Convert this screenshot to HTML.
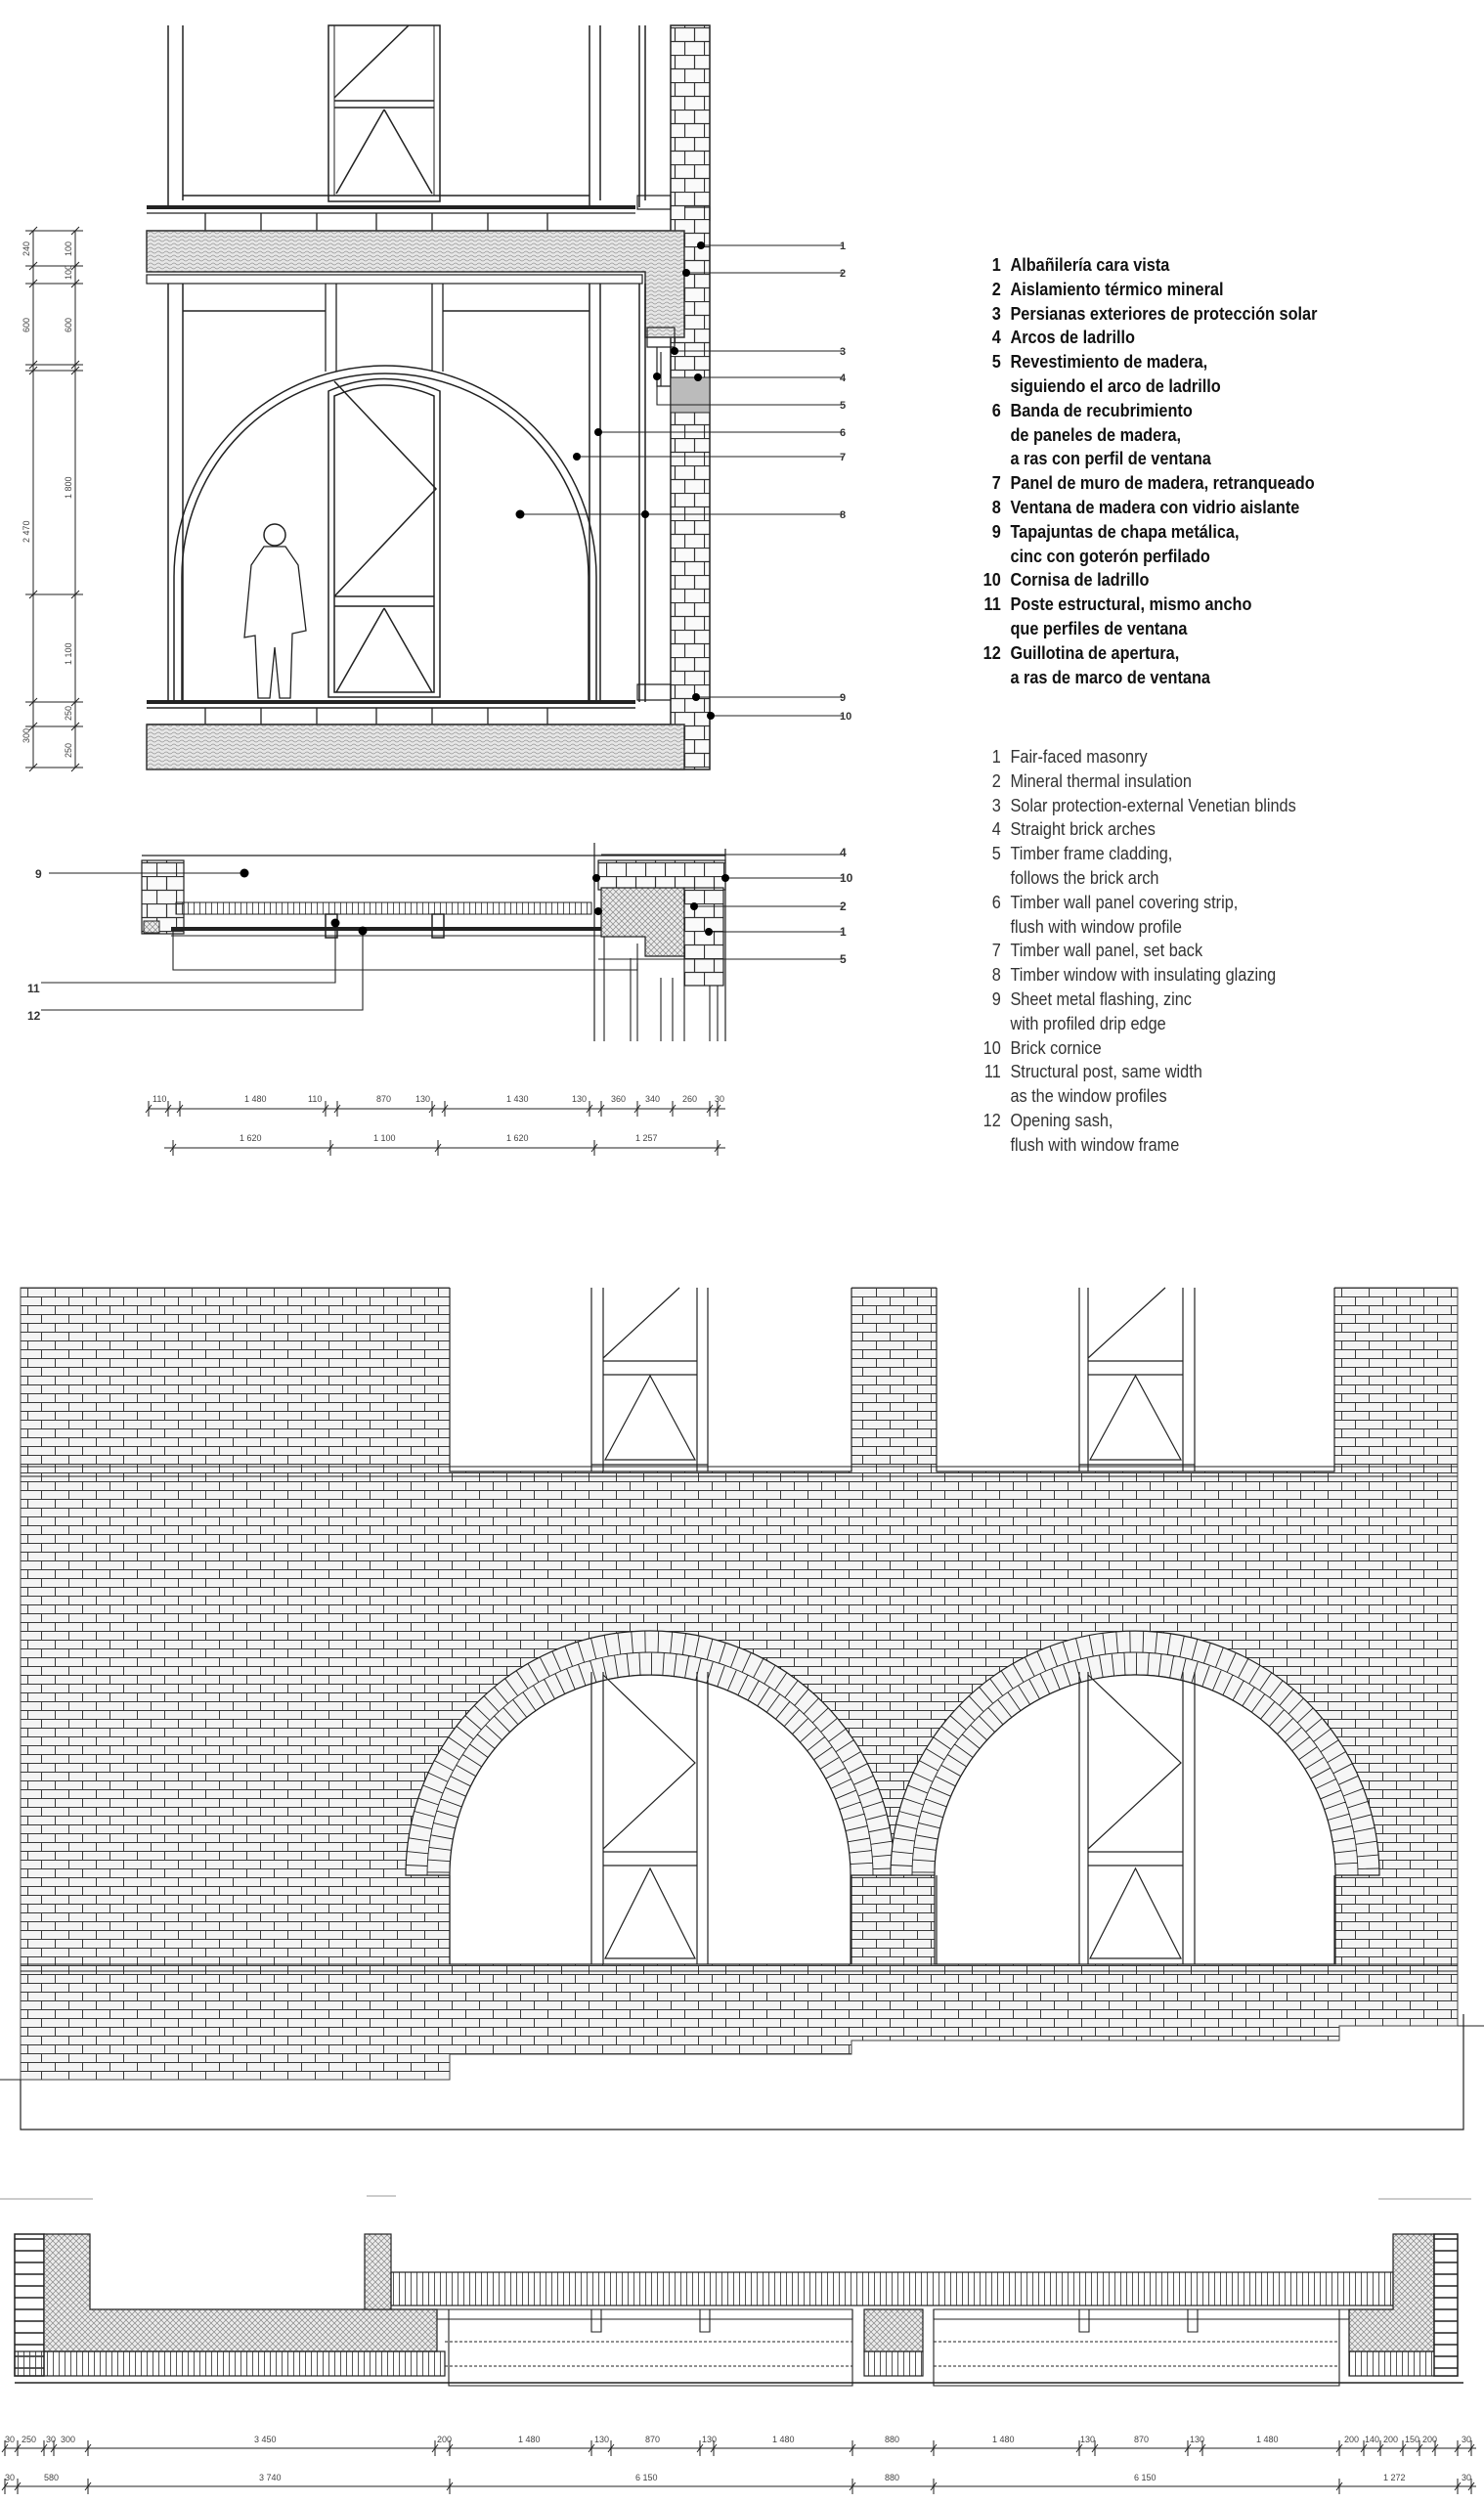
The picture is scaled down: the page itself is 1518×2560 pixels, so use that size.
<!DOCTYPE html>
<html><head><meta charset="utf-8"><style>
html,body{margin:0;padding:0;background:#fff;}
body{width:1518px;height:2560px;position:relative;overflow:hidden;font-family:"Liberation Sans",sans-serif;}
svg{position:absolute;left:0;top:0;}
.lg{position:absolute;left:1000px;font-size:18.5px;line-height:24.8px;white-space:nowrap;transform:scaleX(0.88);transform-origin:0 0;}
.lg div{position:relative;padding-left:38px;height:24.8px;}
.lg span{position:absolute;left:0;width:27px;text-align:right;}
.es{top:259px;font-weight:bold;color:#111;}
.en{top:762px;color:#333;}
</style></head><body>
<svg id="s" width="1518" height="2560" viewBox="0 0 1518 2560" font-family="Liberation Sans" >
<defs>
<pattern id="br" width="28" height="18" patternUnits="userSpaceOnUse" y="1317"><rect width="28" height="18" fill="#f4f4f4"/><path d="M0 0.5H28M0 9.5H28M0.5 0V9.5M14.5 9.5V18" stroke="#3a3a3a" stroke-width="1" fill="none"/></pattern>
<pattern id="br2" width="20" height="28" patternUnits="userSpaceOnUse"><rect width="20" height="28" fill="#fafafa"/><path d="M0 0.5H20M0 14.5H20M10.5 0V14M0.5 14V28" stroke="#333" stroke-width="1.2" fill="none"/></pattern>
<pattern id="cc" width="8" height="8" patternUnits="userSpaceOnUse"><rect width="8" height="8" fill="#e6e6e6"/><path d="M0 2Q2 0 4 2T8 2M0 6Q2 4 4 6T8 6" stroke="#999" stroke-width="0.8" fill="none"/></pattern>
<pattern id="ins" width="6" height="6" patternUnits="userSpaceOnUse"><rect width="6" height="6" fill="#ececec"/><path d="M0 0L6 6M6 0L0 6" stroke="#888" stroke-width="0.7"/></pattern>
<pattern id="vl" width="6" height="10" patternUnits="userSpaceOnUse"><path d="M0.5 0V10" stroke="#444" stroke-width="0.9"/></pattern>
</defs>
<g stroke="#222" fill="none" stroke-width="1.5">
<rect x="686" y="26" width="40" height="761" fill="url(#br2)" stroke="#222"/>
<path d="M172 26V212M187 26V205M603 26V212M614 26V205M654 26V212M660 26V205M187 200H603"/>
<rect x="336" y="26" width="114" height="180"/><rect x="342" y="26" width="102" height="174" stroke-width="1"/>
<path d="M342 103H444M342 110H444M342 100L418 26M393 112L344 198M393 112L442 198"/>
<path d="M150 212H650" stroke-width="4"/><path d="M150 218H650M150 236H686" stroke-width="1.2"/>
<g id="joist1"></g>
<path d="M150 236H700V345H660V278H150Z" fill="url(#cc)" stroke="#333"/>
<rect x="150" y="281" width="507" height="9" stroke-width="1.2"/>
<path d="M172 290V718M187 290V718M603 290V718M614 290V718M654 290V718M660 290V718M187 318H333M453 318H603"/>
<path d="M333 290V380M344 290V380M442 290V380M453 290V380" stroke-width="1.3"/>
<path d="M178 590A216 216 0 0 1 610 590V718M178 590V718M186 590A208 208 0 0 1 602 590V718M186 590V718" stroke-width="1.5"/>
<path d="M336 713V400Q393 375 450 400V713ZM342 708V405Q393 383 444 405V708Z" fill="#fff"/>
<path d="M342 610H444M342 620H444M342 390L446 500L342 610M393 622L344 708M393 622L442 708"/>
<circle cx="281" cy="547" r="11" fill="#fff"/>
<path d="M270 559L257 578L250 652L261 650L264 714L276 714L281 662L286 714L297 714L299 648L313 645L305 578L292 559Z" fill="#fff" stroke-width="1.3"/>
<path d="M150 718H650" stroke-width="4"/><path d="M150 724H650M150 741H686"/>
<g id="joist2"></g>
<rect x="150" y="741" width="550" height="46" fill="url(#cc)" stroke="#333"/>
<path d="M662 335h28v20h-28zM672 355h14v40h-14zM676 360v35" stroke-width="1.2"/>
<rect x="686" y="386" width="40" height="36" fill="#bbb" stroke-width="1"/>
<path d="M652 200h34v14h-34zM652 700h34v16h-34zM700 212h26v14" stroke-width="1.2"/>
<g stroke-width="1.1">
<path d="M717 251H862M702 279H862M690 359H862M714 386H862M672 385V414H862M612 442H862M590 467H862M532 526H862M712 713H862M727 732H862"/>
</g>
<g fill="#000" stroke="none">
<circle cx="717" cy="251" r="4"/><circle cx="702" cy="279" r="4"/><circle cx="690" cy="359" r="4"/><circle cx="714" cy="386" r="4"/><circle cx="672" cy="385" r="4"/><circle cx="612" cy="442" r="4"/><circle cx="590" cy="467" r="4"/><circle cx="532" cy="526" r="4.5"/><circle cx="660" cy="526" r="4"/><circle cx="712" cy="713" r="4"/><circle cx="727" cy="732" r="4"/>
</g>
<g fill="#333" stroke="none" font-size="11" font-weight="bold">
<text x="859" y="255">1</text><text x="859" y="283">2</text><text x="859" y="363">3</text><text x="859" y="390">4</text><text x="859" y="418">5</text><text x="859" y="446">6</text><text x="859" y="471">7</text><text x="859" y="530">8</text><text x="859" y="717">9</text><text x="859" y="736">10</text>
</g>
<g stroke-width="1"><path d="M34 236V785M77 236V785"/><g id="ldt"></g></g>
<g fill="#444" stroke="none" font-size="9">
<text transform="translate(30,262) rotate(-90)">240</text><text transform="translate(73,262) rotate(-90)">100</text><text transform="translate(73,286) rotate(-90)">100</text>
<text transform="translate(30,340) rotate(-90)">600</text><text transform="translate(73,340) rotate(-90)">600</text>
<text transform="translate(30,555) rotate(-90)">2 470</text><text transform="translate(73,510) rotate(-90)">1 800</text><text transform="translate(73,680) rotate(-90)">1 100</text>
<text transform="translate(30,760) rotate(-90)">300</text><text transform="translate(73,737) rotate(-90)">250</text><text transform="translate(73,775) rotate(-90)">250</text>
</g>

<path d="M145 875H742M608 862V1065M742 868V1065" stroke-width="1.2"/>
<rect x="145" y="880" width="43" height="75" fill="url(#br2)" stroke-width="1.2"/>
<rect x="147" y="942" width="16" height="12" fill="url(#ins)" stroke-width="1"/>
<rect x="180" y="923" width="425" height="12" fill="url(#vl)" stroke-width="1"/>
<path d="M175 950H650" stroke-width="4"/><path d="M175 957H650M177 950V992H652V965" stroke-width="1.1"/>
<rect x="333" y="935" width="12" height="24"/><rect x="442" y="935" width="12" height="24"/>
<rect x="612" y="880" width="130" height="30" fill="url(#br2)" stroke-width="1.2"/>
<path d="M615 908H700V978H660V958H615Z" fill="url(#ins)" stroke-width="1.2"/>
<rect x="700" y="908" width="40" height="100" fill="url(#br2)" stroke-width="1.2"/>
<path d="M618 958V1065M645 980V1065M652 985V1065M676 1000V1065M688 1000V1065M700 1008V1065M726 1008V1065M734 1008V1065" stroke-width="1.1"/>
<path d="M50 893H250M42 1005H343V944M42 1033H371V952M615 874H862M742 898H862M710 927H862M725 953H862M612 981H862" stroke-width="1.1"/>
<g fill="#000" stroke="none"><circle cx="250" cy="893" r="4.5"/><circle cx="343" cy="944" r="4.5"/><circle cx="371" cy="952" r="4.5"/><circle cx="610" cy="898" r="4"/><circle cx="742" cy="898" r="4"/><circle cx="710" cy="927" r="4"/><circle cx="725" cy="953" r="4"/><circle cx="612" cy="932" r="4"/></g>
<g fill="#333" stroke="none" font-size="12" font-weight="bold">
<text x="36" y="898">9</text><text x="28" y="1015">11</text><text x="28" y="1043">12</text>
<text x="859" y="876">4</text><text x="859" y="902">10</text><text x="859" y="931">2</text><text x="859" y="957">1</text><text x="859" y="985">5</text>
</g>
<g stroke-width="1"><path d="M152 1134H742M168 1174H742"/><g id="mdt"></g></g>
<g fill="#444" stroke="none" font-size="9">
<text x="156" y="1127">110</text><text x="250" y="1127">1 480</text><text x="315" y="1127">110</text><text x="385" y="1127">870</text><text x="425" y="1127">130</text><text x="518" y="1127">1 430</text><text x="585" y="1127">130</text><text x="625" y="1127">360</text><text x="660" y="1127">340</text><text x="698" y="1127">260</text><text x="731" y="1127">30</text>
<text x="245" y="1167">1 620</text><text x="382" y="1167">1 100</text><text x="518" y="1167">1 620</text><text x="650" y="1167">1 257</text>
</g>

<path d="M21 1317H1491V2072H1370V2087H871V2101H460V2127H21Z" fill="url(#br)" stroke="#444" stroke-width="1"/>
<rect x="460" y="1310" width="411" height="195" fill="#fff" stroke="none"/>
<rect x="958" y="1310" width="407" height="195" fill="#fff" stroke="none"/>
<path d="M460 1317V1505H871V1317M958 1317V1505H1365V1317" stroke-width="1.2"/>
<path d="M21 1500H1491M21 1510H1491M21 2009H1491M21 2016H1491" stroke-width="1"/>
<g id="arches"></g>
<g id="wins"></g>
<path d="M21 2127V2178H1497V2060" stroke-width="1.2"/>
<path d="M0 2127H21M1491 2072H1518" stroke-width="1"/>

<path d="M0 2249H95M1410 2249H1505M375 2246H405" stroke="#999" stroke-width="1"/>
<rect x="15" y="2285" width="30" height="145" fill="#fff"/>
<g id="lbr"></g>
<path d="M45 2285H92V2362H447V2405H45Z" fill="url(#ins)" stroke-width="1.2"/>
<rect x="373" y="2285" width="27" height="77" fill="url(#ins)" stroke-width="1.2"/>
<rect x="400" y="2324" width="1025" height="34" fill="url(#vl)" stroke-width="1.2"/>
<rect x="15" y="2405" width="440" height="25" fill="url(#vl)" stroke-width="1.2"/>
<rect x="884" y="2405" width="60" height="25" fill="url(#vl)" stroke-width="1.2"/>
<rect x="1380" y="2405" width="111" height="25" fill="url(#vl)" stroke-width="1.2"/>
<rect x="884" y="2362" width="60" height="43" fill="url(#ins)" stroke-width="1.2"/>
<path d="M1425 2285H1467V2405H1380V2362H1425Z" fill="url(#ins)" stroke-width="1.2"/>
<rect x="1467" y="2285" width="24" height="145" fill="#fff"/>
<g id="rbr"></g>
<g stroke-width="1.1">
<path d="M447 2362H872V2372H447ZM955 2362H1380V2372H955Z"/>
<path d="M455 2395H872M955 2395H1370M455 2420H872M955 2420H1370" stroke-dasharray="3 2"/>
<path d="M459 2362V2440H872V2362M955 2362V2440H1370V2362M605 2362V2385h10v-23M716 2362V2385h10v-23M1104 2362V2385h10v-23M1215 2362V2385h10v-23"/>
<path d="M15 2437H1497" stroke-width="1.5"/>
</g>
<g stroke-width="1"><path d="M5 2504H1510M5 2543H1510"/><g id="bdt"></g></g>
<g fill="#444" stroke="none" font-size="9" id="bdtx"></g>
</g>
</svg>
<div class="lg es"><div><span>1</span>Albañilería cara vista</div><div><span>2</span>Aislamiento térmico mineral</div><div><span>3</span>Persianas exteriores de protección solar</div><div><span>4</span>Arcos de ladrillo</div><div><span>5</span>Revestimiento de madera,</div><div>siguiendo el arco de ladrillo</div><div><span>6</span>Banda de recubrimiento</div><div>de paneles de madera,</div><div>a ras con perfil de ventana</div><div><span>7</span>Panel de muro de madera, retranqueado</div><div><span>8</span>Ventana de madera con vidrio aislante</div><div><span>9</span>Tapajuntas de chapa metálica,</div><div>cinc con goterón perfilado</div><div><span>10</span>Cornisa de ladrillo</div><div><span>11</span>Poste estructural, mismo ancho</div><div>que perfiles de ventana</div><div><span>12</span>Guillotina de apertura,</div><div>a ras de marco de ventana</div></div>
<div class="lg en"><div><span>1</span>Fair-faced masonry</div><div><span>2</span>Mineral thermal insulation</div><div><span>3</span>Solar protection-external Venetian blinds</div><div><span>4</span>Straight brick arches</div><div><span>5</span>Timber frame cladding,</div><div>follows the brick arch</div><div><span>6</span>Timber wall panel covering strip,</div><div>flush with window profile</div><div><span>7</span>Timber wall panel, set back</div><div><span>8</span>Timber window with insulating glazing</div><div><span>9</span>Sheet metal flashing, zinc</div><div>with profiled drip edge</div><div><span>10</span>Brick cornice</div><div><span>11</span>Structural post, same width</div><div>as the window profiles</div><div><span>12</span>Opening sash,</div><div>flush with window frame</div></div>
<script>
var NS="http://www.w3.org/2000/svg";
function P(id,d,w,fill){var p=document.createElementNS(NS,"path");p.setAttribute("d",d);if(w)p.setAttribute("stroke-width",w);if(fill)p.setAttribute("fill",fill);document.getElementById(id).appendChild(p);}
var d="";[210,267,324,385,442,499,560].forEach(function(x){d+="M"+x+" 218V236";});P("joist1",d,1.3);
d="";[210,267,324,385,442,499,560].forEach(function(x){d+="M"+x+" 724V741";});P("joist2",d,1.3);
d="";[236,272,290,373,379,608,718,743,785].forEach(function(y){d+="M26 "+y+"H85M30 "+(y+4)+"L38 "+(y-4)+"M73 "+(y+4)+"L81 "+(y-4);});P("ldt",d);
d="";[152,172,184,333,345,442,455,603,615,652,688,726,734].forEach(function(x){d+="M"+x+" 1126V1142M"+(x-3)+" 1138L"+(x+3)+" 1130";});
[177,338,448,608,734].forEach(function(x){d+="M"+x+" 1166V1182M"+(x-3)+" 1178L"+(x+3)+" 1170";});P("mdt",d);
[665,1161].forEach(function(cx){var cy=1918,r1=205,r2=250,rm=228;
 var ring="M"+(cx-r2)+" "+cy+"A"+r2+" "+r2+" 0 0 1 "+(cx+r2)+" "+cy+"L"+(cx+r1)+" "+cy+"A"+r1+" "+r1+" 0 0 0 "+(cx-r1)+" "+cy+"Z";
 P("arches",ring,1.2,"#f6f6f6");
 P("arches","M"+(cx-r1)+" "+cy+"A"+r1+" "+r1+" 0 0 1 "+(cx+r1)+" "+cy+"V2009H"+(cx-r1)+"Z",1.2,"#fff");
 var dd="M"+(cx-rm)+" "+cy+"A"+rm+" "+rm+" 0 0 1 "+(cx+rm)+" "+cy;
 for(var a=0;a<=180;a+=3.2){var t=a*Math.PI/180,c=Math.cos(t),s=Math.sin(t);
  dd+="M"+(cx+c*r1).toFixed(1)+" "+(cy-s*r1).toFixed(1)+"L"+(cx+c*rm).toFixed(1)+" "+(cy-s*rm).toFixed(1);
  var t2=(a+1.6)*Math.PI/180;c=Math.cos(t2);s=Math.sin(t2);
  if(a+1.6<=180)dd+="M"+(cx+c*rm).toFixed(1)+" "+(cy-s*rm).toFixed(1)+"L"+(cx+c*r2).toFixed(1)+" "+(cy-s*r2).toFixed(1);}
 P("arches",dd,0.9);
});
P("arches","M460 1918V2009M871 1918V2009M958 1918V2009M1365 1918V2009",1.2);
[[605,617,713,724],[1104,1113,1210,1222]].forEach(function(w){var a=w[0],b=w[1],c=w[2],e=w[3],m=(b+c)/2;
 var dd="M"+a+" 1317V1505M"+b+" 1317V1505M"+c+" 1317V1505M"+e+" 1317V1505M"+b+" 1392H"+c+"M"+b+" 1406H"+c+"M"+a+" 1498H"+e;
 dd+="M"+b+" 1389L"+(c-18)+" 1317M"+m+" 1407L"+(b+2)+" 1493L"+(c-2)+" 1493Z";
 dd+="M"+a+" 1710V2009M"+b+" 1710V2009M"+c+" 1710V2009M"+e+" 1710V2009M"+b+" 1894H"+c+"M"+b+" 1908H"+c;
 dd+="M"+b+" 1713L"+(c-2)+" 1803L"+b+" 1891M"+m+" 1911L"+(b+2)+" 2003L"+(c-2)+" 2003Z";
 P("wins",dd,1.2);
});
d="";for(var y=2290;y<2430;y+=12){d+="M15 "+y+"H45";}P("lbr",d,1.6);
d="";for(var y=2290;y<2430;y+=12){d+="M1467 "+y+"H1491";}P("rbr",d,1.6);
var xs=[5,18,45,55,90,445,460,605,625,716,730,872,955,1104,1120,1215,1230,1370,1395,1412,1435,1452,1468,1491,1505];
d="";xs.forEach(function(x){d+="M"+x+" 2496V2512M"+(x-3)+" 2508L"+(x+3)+" 2500";});
[5,18,90,460,872,955,1370,1491,1505].forEach(function(x){d+="M"+x+" 2535V2551M"+(x-3)+" 2547L"+(x+3)+" 2539";});P("bdt",d);
var lab=[[5,"30"],[22,"250"],[47,"30"],[62,"300"],[260,"3 450"],[447,"200"],[530,"1 480"],[608,"130"],[660,"870"],[718,"130"],[790,"1 480"],[905,"880"],[1015,"1 480"],[1105,"130"],[1160,"870"],[1217,"130"],[1285,"1 480"],[1375,"200"],[1396,"140"],[1415,"200"],[1437,"150"],[1455,"200"],[1495,"30"]];
var g=document.getElementById("bdtx");lab.forEach(function(l){var t=document.createElementNS(NS,"text");t.setAttribute("x",l[0]);t.setAttribute("y",2498);t.textContent=l[1];g.appendChild(t);});
[[5,"30"],[45,"580"],[265,"3 740"],[650,"6 150"],[905,"880"],[1160,"6 150"],[1415,"1 272"],[1495,"30"]].forEach(function(l){var t=document.createElementNS(NS,"text");t.setAttribute("x",l[0]);t.setAttribute("y",2537);t.textContent=l[1];g.appendChild(t);});
</script>
</body></html>
